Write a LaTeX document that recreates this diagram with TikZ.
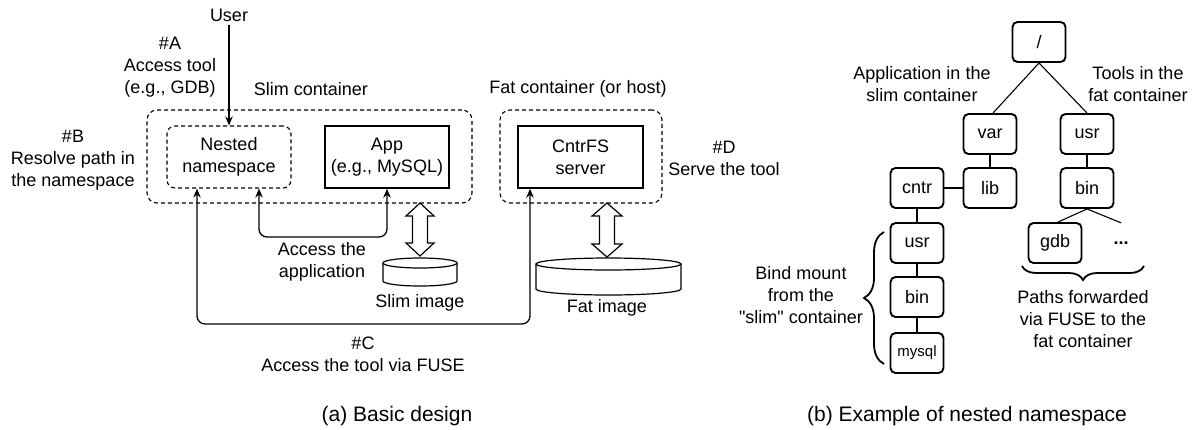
\documentclass[tikz,border=0pt]{standalone}
\usepackage{fontspec}
\setmainfont{Liberation Sans}[Ligatures=TeXOff]
\usetikzlibrary{arrows.meta,decorations.pathreplacing}
\begin{document}
\begin{tikzpicture}[x=1pt,y=-1pt,
  txt/.style={font=\fontsize{18}{22}\selectfont, align=center, inner sep=0pt},
  captxt/.style={font=\fontsize{21}{25}\selectfont, inner sep=0pt},
  dashbox/.style={draw, dash pattern=on 4pt off 3pt, line width=1.1pt, rounded corners=10pt, inner sep=0pt},
  solidbox/.style={draw, line width=1.4pt, inner sep=0pt, txt, minimum width=124pt, minimum height=62pt},
  conn/.style={line width=1.3pt, rounded corners=8pt},
  tip/.style={{Stealth[length=9pt,width=7.5pt]}-{Stealth[length=9pt,width=7.5pt]}},
  treebox/.style={draw, line width=1.9pt, rounded corners=5pt, minimum width=53pt, minimum height=40pt, inner sep=0pt, txt},
  treeline/.style={line width=1.1pt},
  brc/.style={decorate, line width=1.8pt}
]
\useasboundingbox (0,0) rectangle (1193,429);
\fill[white] (0,0) rectangle (1193,429);

% ---------- (a) Basic design ----------
\node[txt] (user) at (229,15) {User};
\node[txt] (labA) at (170,67) {\#A\\Access tool\\(e.g., GDB)};
\node[txt] (labSlim) at (311,89) {Slim container};
\node[txt] (labFat) at (578,89) {Fat container (or host)};
\node[txt] (labB) at (73,160) {\#B\\Resolve path in\\the namespace};
\node[txt] (labD) at (724,158.5) {\#D\\Serve the tool};

\node[dashbox, minimum width=325pt, minimum height=93pt] (slim) at (309.5,156.5) {};
\node[dashbox, rounded corners=8pt, minimum width=124pt, minimum height=62pt, txt] (nested) at (229,157) {Nested\\namespace};
\node[solidbox] (app) at (387,157) {App\\(e.g., MySQL)};
\node[dashbox, minimum width=162pt, minimum height=93pt] (fat) at (581,156.5) {};
\node[solidbox, minimum width=125pt] (cntrfs) at (580.5,157) {CntrFS\\server};

\draw[line width=1.3pt, -{Stealth[length=9pt,width=7.5pt]}, shorten <=4pt] (user.south) -- (nested.north);

\coordinate (accA) at (300,237);
\draw[conn, tip] ([xshift=30pt]nested.south) |- (accA) -| (app.south);
\coordinate (accC) at (363,324);
\draw[conn, tip] ([xshift=-32pt]nested.south) |- (accC) -| ([xshift=-50.5pt]cntrfs.south);

\node[txt] (labAcc) at (322,261.5) {Access the\\application};
\node[txt] (labC) at (363,354) {\#C\\Access the tool via FUSE};

% block double arrows
\draw[line width=1.2pt, fill=white] (420,203) -- (434,216) -- (427.5,216) -- (427.5,243) -- (434,243) -- (420,256)
  -- (406,243) -- (412.5,243) -- (412.5,216) -- (406,216) -- cycle;
\draw[line width=1.2pt, fill=white] (607,203) -- (622,216) -- (614.5,216) -- (614.5,244) -- (622,244) -- (607,257)
  -- (592,244) -- (599.5,244) -- (599.5,216) -- (592,216) -- cycle;

% cylinders
\draw[line width=1.2pt, fill=white] (383,263) -- (383,281) arc[start angle=180, end angle=360, x radius=37pt, y radius=5pt] -- (457,263);
\draw[line width=1.2pt, fill=white] (420,263) ellipse [x radius=37pt, y radius=5pt];
\draw[line width=1.2pt, fill=white] (536,264) -- (536,289) arc[start angle=180, end angle=360, x radius=72.5pt, y radius=6pt] -- (681,264);
\draw[line width=1.2pt, fill=white] (608.5,264) ellipse [x radius=72.5pt, y radius=6pt];

\node[txt] (labSI) at (420,303) {Slim image};
\node[txt] (labFI) at (607,308) {Fat image};

\node[captxt] (capA) at (397,416) {(a) Basic design};

% ---------- (b) nested namespace ----------
\node[treebox] (root) at (1039,42) {/};
\node[treebox] (var) at (990,134) {var};
\node[treebox] (usr) at (1087,134) {usr};
\node[treebox] (lib) at (990,188) {lib};
\node[treebox] (bin) at (1087,188) {bin};
\node[treebox] (cntr) at (917,188) {cntr};
\node[treebox] (usrb) at (917,243) {usr};
\node[treebox] (binb) at (917,297) {bin};
\node[treebox, font=\fontsize{15}{18}\selectfont] (mysql) at (917,353) {mysql};
\node[treebox] (gdb) at (1055,243) {gdb};
\node[txt, minimum height=40pt, minimum width=40pt] (dots) at (1121,243) {\textbf{...}};

\draw[treeline] (root.south) -- ([xshift=3pt]var.north);
\draw[treeline] (root.south) -- (usr.north);
\draw[treeline] (var) -- (lib);
\draw[treeline] (usr) -- (bin);
\draw[treeline] (cntr) -- (lib);
\draw[treeline] (cntr) -- (usrb);
\draw[treeline] (usrb) -- (binb);
\draw[treeline] (binb) -- (mysql);
\draw[treeline] (bin.south) -- ([xshift=3pt]gdb.north);
\draw[treeline] (bin.south) -- (dots.north);

\node[txt] (labApp) at (922,84) {Application in the\\slim container};
\node[txt] (labTools) at (1138,84) {Tools in the\\fat container};

\coordinate (brA1) at (1144,266);
\coordinate (brA2) at (1022,266);
\draw[brc, decoration={brace, amplitude=14pt}] (brA1) -- (brA2);
\node[txt] (labPaths) at (1083,319) {Paths forwarded\\via FUSE to the\\fat container};

\coordinate (brB1) at (884,364);
\coordinate (brB2) at (884,232);
\draw[brc, decoration={brace, amplitude=20pt}] (brB1) -- (brB2);
\node[txt] (labBind) at (801,295.5) {Bind mount\\from the\\"slim" container};

\node[captxt] (capB) at (967,416) {(b) Example of nested namespace};
\end{tikzpicture}
\end{document}
